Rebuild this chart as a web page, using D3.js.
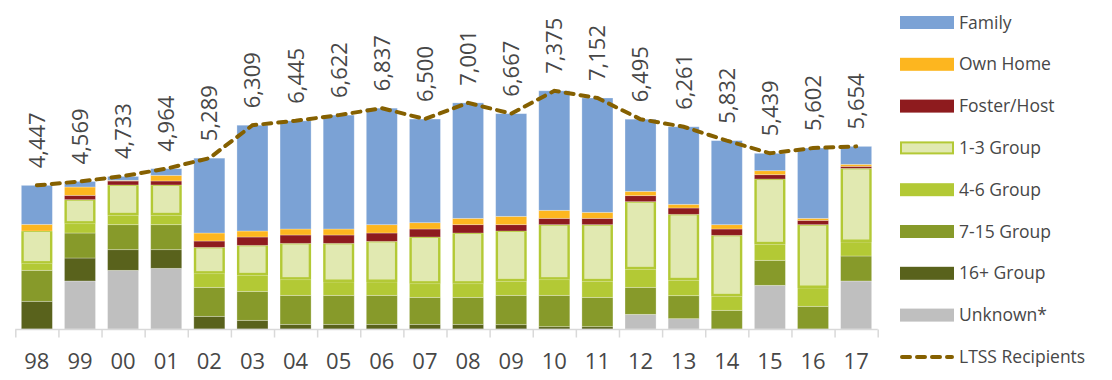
<!DOCTYPE html>
<html><head><meta charset="utf-8">
<script src="https://cdn.jsdelivr.net/npm/d3@7"></script>
<style>body{margin:0;background:#fff}svg{display:block}</style>
</head><body>
<svg id="c" width="1112" height="380"></svg>
<script>
const years = ["98","99","00","01","02","03","04","05","06","07","08","09","10","11","12","13","14","15","16","17"];
const ltss = [4447,4569,4733,4964,5289,6309,6445,6622,6837,6500,7001,6667,7375,7152,6495,6261,5832,5439,5602,5654];
const unknown  = [0,1486,1816,1878,0,0,0,0,0,0,0,0,0,0,454,320,0,1352,0,1486];
const group16  = [857,712,640,578,392,268,144,144,144,144,144,134,72,72,0,0,0,0,0,0];
const group7   = [960,774,774,774,898,898,898,898,898,836,836,908,970,908,836,712,578,774,702,774];
const group4   = [207,289,289,289,423,495,485,413,413,423,423,433,485,495,557,475,433,495,567,433];
const group1   = [1010,743,940,940,815,929,1125,1197,1259,1445,1569,1559,1703,1755,2095,2043,1889,2022,1961,2281];
const foster   = [0,134,124,124,196,258,258,258,258,248,258,196,196,196,186,196,196,134,134,62];
const ownHome  = [206,258,20,175,248,186,186,186,258,196,196,258,248,186,134,114,134,124,62,62];
const family   = [1207,173,120,206,2317,3275,3349,3526,3607,3208,3575,3179,3701,3540,2233,2401,2602,538,2176,556];

const series = [
  {name:"Unknown*", vals:unknown, color:"#BFBFBF"},
  {name:"16+ Group", vals:group16, color:"#59621C"},
  {name:"7-15 Group", vals:group7, color:"#879A2A"},
  {name:"4-6 Group", vals:group4, color:"#B3C935"},
  {name:"1-3 Group", vals:group1, color:"#E1E9B1", stroke:"#B3C935"},
  {name:"Foster/Host", vals:foster, color:"#8E1B1E"},
  {name:"Own Home", vals:ownHome, color:"#FDB61F"},
  {name:"Family", vals:family, color:"#7BA2D5"}
];
const lineColor = "#856000";
const txt = "#474747";
const font = "'Open Sans', sans-serif";

const svg = d3.select("#c");
const x = d3.scaleBand().domain(years).range([15.3, 877.7]).paddingInner(0.28).paddingOuter(0.14);
const y = d3.scaleLinear().domain([0, 8000]).range([329, 329 - 8000*0.0323]);

const table = years.map((yr,i)=>{const o={year:yr}; series.forEach(s=>o[s.name]=s.vals[i]); return o;});
const stack = d3.stack().keys(series.map(s=>s.name))(table);

const g = svg.append("g");
stack.forEach((layer,li)=>{
  const s = series[li];
  layer.forEach(d=>{
    const h = y(d[0]) - y(d[1]);
    if (h <= 0) return;
    const x0 = x(d.data.year), w = x.bandwidth(), y0 = y(d[1]);
    if (s.stroke) {
      g.append("rect").attr("x",x0).attr("y",y0).attr("width",w).attr("height",h).attr("fill",s.stroke);
      g.append("rect").attr("x",x0+2.4).attr("y",y0+1).attr("width",Math.max(0,w-4.8)).attr("height",Math.max(0,h-3.5)).attr("fill",s.color);
    } else {
      g.append("rect").attr("x",x0).attr("y",y0).attr("width",w).attr("height",h).attr("fill",s.color)
        .attr("stroke","rgba(255,255,255,0.35)").attr("stroke-width",0.8);
    }
  });
});

const axisY = 329.5;
svg.append("line").attr("x1",15.3).attr("x2",877.7).attr("y1",axisY).attr("y2",axisY).attr("stroke","#D9D9D9").attr("stroke-width",1.5);
const tickScale = d3.scaleLinear().domain([0, years.length]).range([15.3, 877.7]);
const tickAxis = svg.append("g").attr("transform",`translate(0,${axisY})`)
  .call(d3.axisBottom(tickScale).tickValues(d3.range(0, years.length+1)).tickSize(8).tickFormat(""));
tickAxis.select(".domain").remove();
tickAxis.selectAll("line").attr("stroke","#D9D9D9").attr("stroke-width",1.5);

const catAxis = svg.append("g").attr("transform",`translate(0,${axisY})`)
  .call(d3.axisBottom(x).tickSize(0).tickPadding(0));
catAxis.select(".domain").remove();
catAxis.selectAll("text").attr("font-family",font).attr("font-size",22).attr("fill",txt).attr("dy",null).attr("y",39.5);

const line = d3.line().x((d,i)=>x(years[i])+x.bandwidth()/2).y(d=>y(d));
svg.append("path").datum(ltss).attr("d",line).attr("fill","none").attr("stroke",lineColor)
  .attr("stroke-width",4).attr("stroke-dasharray","8,7").attr("stroke-linecap","round");

ltss.forEach((v,i)=>{
  const cx = x(years[i])+x.bandwidth()/2, ty = y(v) - 17;
  svg.append("text").attr("transform",`translate(${cx},${ty}) rotate(-90)`)
    .attr("dy","0.36em").attr("font-family",font).attr("font-size",22).attr("fill",txt)
    .text(d3.format(",")(v));
});

const legendItems = [...series].reverse();
const lg = svg.append("g");
legendItems.forEach((s,i)=>{
  const cy = 22.5 + i*41.8;
  if (s.stroke) {
    lg.append("rect").attr("x",901).attr("y",cy-5.5).attr("width",52).attr("height",11).attr("fill",s.color).attr("stroke",s.stroke).attr("stroke-width",2);
  } else {
    lg.append("rect").attr("x",900).attr("y",cy-6.5).attr("width",54).attr("height",13).attr("fill",s.color);
  }
  lg.append("text").attr("x",959).attr("y",cy).attr("dy","0.35em").attr("font-family",font).attr("font-size",17.5).attr("fill",txt).text(s.name);
});
const ly = 22.5 + 8*41.8;
lg.append("line").attr("x1",902).attr("x2",952).attr("y1",ly).attr("y2",ly).attr("stroke",lineColor)
  .attr("stroke-width",4).attr("stroke-dasharray","8,7").attr("stroke-linecap","round");
lg.append("text").attr("x",959).attr("y",ly).attr("dy","0.35em").attr("font-family",font).attr("font-size",17.5).attr("fill",txt).text("LTSS Recipients");
</script>
</body></html>
